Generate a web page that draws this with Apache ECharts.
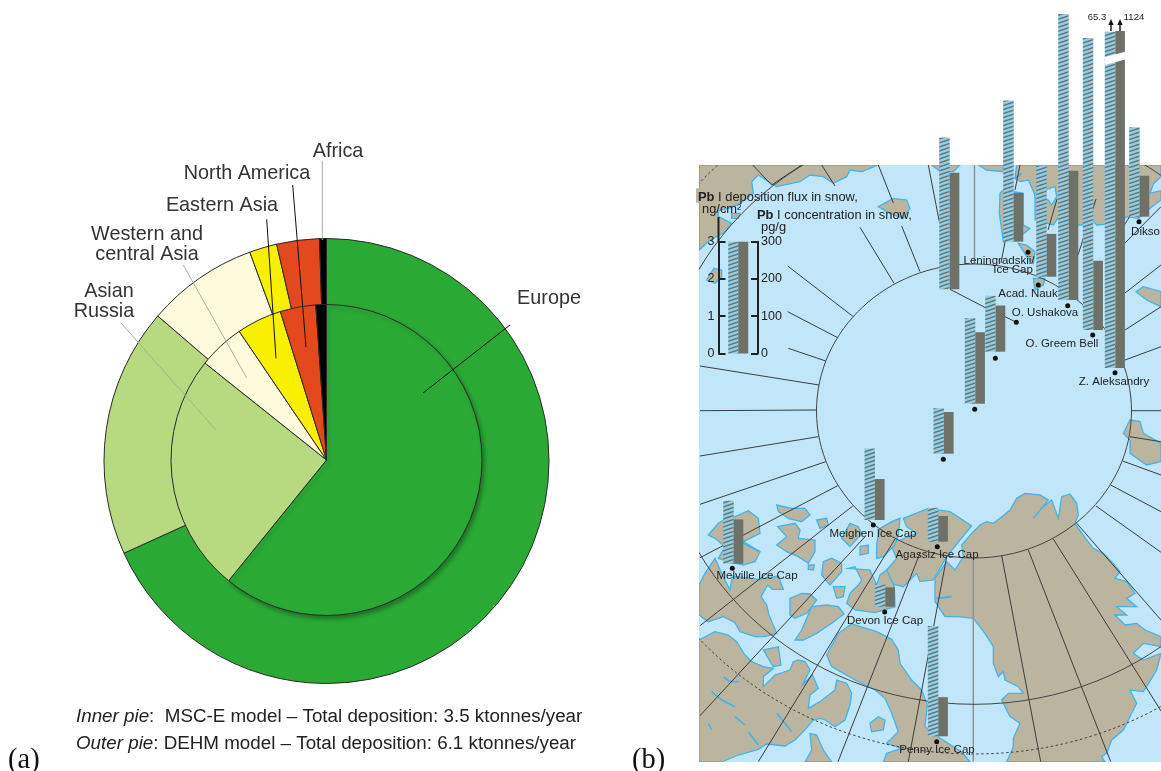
<!DOCTYPE html>
<html>
<head>
<meta charset="utf-8">
<title>Pb deposition</title>
<script src="https://cdn.jsdelivr.net/npm/echarts@6/dist/echarts.min.js"></script>
<style>
html, body { margin: 0; padding: 0; background: #fff; }
#chart { width: 1161px; height: 771px; }
</style>
</head>
<body>
<div id="chart"></div>
<script>
// (a) source regions, % of total deposition
const regions = ['Europe', 'Asian Russia', 'Western and central Asia', 'Eastern Asia', 'North America', 'Africa'];
const innerPie = [60.9, 24.9, 4.8, 4.7, 3.7, 1.1];
const outerPie = [68.2, 18.1, 8.1, 2.0, 3.1, 0.5];
const regionColors = ['#2aaa35', '#b7d97f', '#fefbdc', '#f8f000', '#e4491d', '#000000'];

// (b) stations, flux in ng/cm2 and concentration in pg/g
const stations = ['', 'Leningradskii Ice Cap', 'Acad. Nauk', 'O. Ushakova', 'O. Greem Bell', 'Z. Aleksandry', 'Dikso', '', '', '', 'Meighen Ice Cap', 'Agassiz Ice Cap', 'Melville Ice Cap', 'Devon Ice Cap', 'Penny Ice Cap'];
const fluxValues = [4.08, 3.79, 2.98, 7.68, 7.84, 65.3, 2.40, 1.50, 2.30, 1.22, 1.92, 0.91, 1.69, 0.60, 2.96];
const concValues = [313, 131, 115, 347, 186, 1124, 110, 124, 192, 112, 110, 69, 119, 52, 105];
// the Z. Aleksandry bars are cut with a break, these are the heights they are drawn to
const fluxBreak = 9.03;
const concBreak = 905;

// where each station sits on the map
const stationX = [949.7, 1013.7, 1046.7, 1068.7, 1093.3, 1115.3, 1139.7, 995.7, 975.3, 944, 875, 938.3, 733.7, 885.3, 938.3];
const stationBase = [289.3, 241.7, 276.7, 300, 330, 368, 216.7, 351.7, 403.7, 453.7, 520, 541.7, 563.7, 606.7, 736.3];
const stationDots = [[1016.3, 322.3], [1028, 252.3], [1038.3, 285], [1067.7, 305.7], [1092.7, 335], [1115, 372.7], [1139, 221.7], [995.3, 358.3], [974.7, 409.3], [943.3, 459.3], [873.3, 525], [937.3, 546.7], [732.3, 568.3], [884.7, 612], [936.7, 741.7]];

const fluxTicks = [0, 1, 2, 3];
const concTicks = [0, 100, 200, 300];
const scaleHeight = 111.7;
const pxPerFlux = scaleHeight / 3;
const pxPerConc = scaleHeight / 300;

const TAN = '#bbb5a0';
const SEA = '#c1e6fa';
const COAST = '#42b4ea';
const BAR_GREY = '#6d7168';
const INK = '#222222';
const SANS = '"Liberation Sans", Arial, sans-serif';

function fromCrop(ox, oy, pts) {
    return pts.map(function (p) {
        return [ox + p[0] / 3, oy + p[1] / 3];
    });
}

const landShapes = [
    // upper left Siberia
    fromCrop(690, 0, [[28, 495], [565, 495], [515, 515], [480, 510], [470, 530], [430, 550], [400, 530], [360, 525], [330, 545], [260, 560], [235, 545], [205, 525], [185, 545], [190, 580], [150, 610], [115, 625], [85, 632], [85, 650], [125, 670], [100, 700], [60, 720], [28, 750]]),
    fromCrop(690, 0, [[565, 620], [610, 595], [650, 600], [660, 625], [640, 655], [600, 640]]),
    fromCrop(690, 0, [[725, 495], [810, 495], [790, 515], [745, 510]]),
    fromCrop(690, 0, [[72, 805], [95, 810], [95, 830], [75, 850], [50, 840]]),
    fromCrop(690, 0, [[125, 640], [150, 640], [145, 655], [125, 655]]),
    // upper right Siberia and the islands below it
    fromCrop(920, 160, [[290, 15], [723, 15], [723, 50], [700, 72], [690, 100], [723, 92], [723, 120], [690, 145], [655, 175], [620, 170], [600, 190], [530, 195], [510, 172], [490, 195], [470, 195], [415, 172], [400, 195], [345, 180], [345, 105], [325, 60], [300, 65], [285, 55]]),
    fromCrop(920, 160, [[175, 15], [250, 15], [250, 35], [200, 30]]),
    fromCrop(920, 160, [[240, 100], [250, 90], [310, 100], [310, 195], [330, 205], [300, 230], [250, 245], [238, 160]]),
    fromCrop(920, 160, [[295, 250], [320, 255], [345, 275], [340, 310], [320, 290]]),
    fromCrop(920, 160, [[340, 355], [375, 355], [370, 375], [345, 390]]),
    fromCrop(920, 160, [[648, 395], [670, 380], [723, 395], [723, 440], [680, 420]]),
    fromCrop(690, 390, [[1320, 90], [1350, 95], [1360, 130], [1413, 160], [1413, 215], [1370, 225], [1320, 190], [1320, 150], [1300, 130]]),
    // Greenland
    fromCrop(930, 490, [[95, 165], [130, 125], [150, 105], [170, 95], [190, 100], [210, 85], [240, 60], [260, 25], [285, 10], [330, 15], [355, 30], [310, 85], [335, 55], [365, 30], [385, 85], [395, 20], [420, 12], [440, 40], [445, 75], [435, 100], [470, 150], [490, 175], [520, 190], [550, 220], [570, 245], [555, 265], [590, 275], [615, 310], [590, 325], [620, 350], [560, 350], [590, 375], [555, 375], [585, 405], [620, 400], [645, 420], [693, 440], [693, 470], [640, 460], [610, 490], [640, 510], [693, 490], [680, 540], [650, 590], [640, 605], [600, 600], [620, 640], [595, 690], [580, 720], [545, 750], [530, 790], [515, 800], [525, 816], [230, 816], [250, 770], [250, 745], [270, 700], [240, 680], [225, 650], [215, 630], [235, 610], [280, 610], [265, 590], [225, 570], [220, 545], [205, 560], [190, 520], [190, 470], [165, 430], [130, 385], [85, 380], [45, 380], [15, 335], [15, 265], [50, 215], [75, 240], [100, 200]]),
    // Canadian Arctic islands
    fromCrop(690, 390, [[640, 385], [715, 355], [780, 365], [845, 408], [810, 450], [770, 500], [730, 570], [690, 575], [680, 550], [640, 590], [600, 580], [590, 540], [620, 505], [600, 460], [630, 450], [680, 430], [650, 410]]),
    fromCrop(695, 490, [[40, 135], [70, 100], [85, 90], [120, 80], [160, 62], [190, 85], [195, 130], [145, 155], [195, 185], [180, 215], [145, 225], [100, 215], [70, 205], [90, 170], [60, 145]]),
    fromCrop(695, 490, [[245, 45], [290, 55], [330, 55], [345, 75], [320, 95], [280, 85], [250, 65]]),
    fromCrop(695, 490, [[248, 110], [300, 100], [315, 120], [310, 145], [360, 150], [360, 185], [340, 220], [310, 200], [275, 185], [245, 165], [275, 140]]),
    fromCrop(695, 490, [[365, 90], [395, 85], [400, 105], [375, 115]]),
    fromCrop(695, 490, [[465, 100], [490, 110], [500, 130], [465, 170], [440, 145]]),
    fromCrop(695, 490, [[495, 170], [520, 165], [520, 190], [495, 195]]),
    fromCrop(695, 490, [[545, 160], [555, 115], [590, 95], [615, 85], [610, 135], [600, 165], [565, 200], [545, 205]]),
    fromCrop(695, 490, [[385, 215], [410, 205], [440, 220], [440, 245], [405, 285], [380, 255]]),
    fromCrop(695, 490, [[340, 225], [358, 225], [355, 240], [340, 238]]),
    fromCrop(695, 490, [[12, 285], [30, 250], [60, 205], [78, 245], [105, 300], [112, 258], [190, 268], [250, 258], [265, 298], [232, 298], [218, 285], [198, 320], [215, 345], [222, 375], [245, 430], [210, 440], [180, 440], [135, 425], [120, 398], [85, 380], [40, 395], [12, 375]]),
    fromCrop(695, 490, [[285, 325], [320, 310], [345, 312], [365, 330], [335, 370], [300, 385], [285, 375]]),
    fromCrop(695, 490, [[350, 350], [395, 345], [430, 350], [447, 372], [410, 400], [365, 430], [325, 450], [300, 450], [320, 420]]),
    fromCrop(695, 490, [[415, 290], [450, 290], [445, 320], [425, 325]]),
    fromCrop(695, 490, [[460, 235], [480, 230], [500, 270], [490, 285], [465, 310], [455, 340], [480, 360], [540, 368], [600, 350], [598, 290], [575, 240], [555, 255], [545, 285], [525, 240]]),
    // Baffin Island and the mainland
    fromCrop(695, 620, [[395, 105], [430, 40], [470, 12], [545, 35], [590, 58], [610, 90], [615, 130], [650, 180], [680, 210], [697, 255], [690, 320], [735, 354], [804, 399], [825, 426], [565, 426], [575, 400], [620, 385], [575, 370], [610, 335], [590, 280], [570, 235], [540, 210], [480, 180], [410, 140]]),
    fromCrop(695, 620, [[12, 60], [40, 45], [60, 35], [100, 45], [125, 65], [150, 105], [170, 125], [205, 140], [235, 145], [205, 170], [205, 200], [240, 165], [285, 150], [295, 125], [310, 120], [330, 125], [345, 150], [322, 195], [352, 165], [370, 205], [345, 225], [340, 265], [375, 245], [420, 210], [425, 180], [455, 190], [470, 220], [465, 255], [450, 300], [420, 320], [390, 300], [375, 295], [355, 300], [325, 335], [300, 360], [270, 378], [215, 372], [190, 388], [130, 405], [80, 426], [12, 426]]),
    fromCrop(695, 620, [[205, 90], [250, 80], [258, 135], [235, 140]]),
    fromCrop(695, 620, [[345, 340], [365, 345], [385, 390], [410, 426], [330, 426], [350, 390]]),
    fromCrop(695, 620, [[525, 310], [550, 290], [570, 300], [565, 330], [530, 335]])
];

// lakes and narrow channels, drawn as sea on top of the land
const seaPatches = [
    fromCrop(920, 160, [[345, 100], [405, 80], [410, 110], [395, 135], [385, 120], [345, 112]])
];
const channels = [
    fromCrop(695, 620, [[85, 170], [105, 185], [130, 185]]),
    fromCrop(695, 620, [[50, 215], [80, 240], [120, 260]]),
    fromCrop(695, 620, [[120, 290], [150, 315]]),
    fromCrop(695, 620, [[245, 280], [290, 335]]),
    fromCrop(695, 620, [[40, 310], [50, 330]]),
    fromCrop(695, 620, [[160, 335], [190, 375]]),
    fromCrop(695, 490, [[145, 160], [195, 185]]),
    fromCrop(930, 490, [[20, 325], [65, 320]]),
    fromCrop(920, 160, [[285, 55], [305, 40]])
];

// meridians, [x1, y1, x2, y2]
const meridians = [
    [853.3, 316.7, 787.7, 266], [837.7, 337.7, 787.7, 311.7], [825.7, 361, 788.3, 348.3],
    [819, 385, 700, 366], [816.7, 410, 700, 410.7], [818.3, 436.7, 700, 456],
    [825.7, 461.7, 700, 504.3], [837.7, 485.7, 700, 557.7], [852.7, 506, 700, 625.7],
    [865, 536.7, 700, 715.7], [895, 539, 758.3, 761.7], [920, 553, 838, 761.7],
    [946.7, 556.7, 908.3, 761.7], [1001.7, 555.7, 1040.7, 761.7], [1028.3, 550, 1110.7, 761.7],
    [1053.3, 539, 1161, 711], [1076.7, 523.3, 1161, 620], [1096, 506, 1161, 552.3],
    [1110.7, 485, 1161, 511.7], [1122.7, 461, 1161, 475], [1130, 436.7, 1161, 441.7],
    [1131.7, 410.7, 1161, 410.7], [1125, 360, 1161, 346.7], [1125, 330, 1161, 306.7],
    [1125, 293, 1161, 265], [1125, 243, 1161, 206.7], [928.3, 165, 939.3, 221.7],
    [901.7, 226, 920, 271.7], [860, 227.3, 894, 283.3], [878.3, 165, 893.3, 203],
    [821.7, 165, 835, 186], [752.7, 165, 771.7, 185], [771.7, 185, 801.7, 165],
    [1020, 165, 1015, 190], [1005, 242, 1001, 263], [950, 289.3, 986.7, 308.3],
    [1005, 316.7, 1016.3, 322.3], [1057, 199, 1048, 230], [1096, 199, 1078, 255],
    [1113, 243, 1130, 216], [1078, 275, 1063, 285]
];
const greyMeridian = [[973.3, 557.7, 973.3, 761.7], [974.5, 165, 974.5, 263]];

// [cx, cy, rx, ry, dashed]
const latitudes = [
    [974, 411, 157.5, 147, false],
    [974, 411, 314, 293.3, false],
    [974, 411, 367.6, 343, true]
];

const stationLabels = [
    ['Leningradskii/', 999, 260.5], ['Ice Cap', 1013, 270], ['Acad. Nauk', 1028, 293.5],
    ['O. Ushakova', 1045, 313], ['O. Greem Bell', 1062, 343.5], ['Z. Aleksandry', 1114, 381.5],
    ['Dikso', 1145.5, 231.5], ['Meighen Ice Cap', 873, 533.5], ['Agassiz Ice Cap', 937, 554.5],
    ['Melville Ice Cap', 757, 575.5], ['Devon Ice Cap', 885, 621], ['Penny Ice Cap', 937, 750]
];

// leader lines of the pie
const pieLeaders = [
    [[322.3, 161, 322.3, 240], '#a8a8a8'],
    [[292.7, 185, 306, 347], '#111'],
    [[266.7, 219.3, 276, 358.3], '#111'],
    [[183.3, 265, 246.7, 378], '#b0b0a0'],
    [[121, 323, 216, 430], '#a8b090'],
    [[423, 393, 510, 325], '#111']
];
const pieLabels = [
    ['Africa', 338, 151.5], ['North America', 247, 173.5], ['Eastern Asia', 222, 205.5],
    ['Western and', 147, 234.5], ['central Asia', 147, 254.5], ['Asian', 109, 291.5],
    ['Russia', 104, 311.5], ['Europe', 549, 298.5]
];

function hatchPattern() {
    const c = document.createElement('canvas');
    c.width = 12;
    c.height = 4;
    const g = c.getContext('2d');
    g.fillStyle = '#8fd0ea';
    g.fillRect(0, 0, 12, 4);
    g.strokeStyle = '#6a7470';
    g.lineWidth = 1.5;
    [-4, 0, 4, 8].forEach(function (d) {
        g.beginPath();
        g.moveTo(0, d + 4);
        g.lineTo(12, d);
        g.stroke();
    });
    return { image: c, repeat: 'repeat' };
}
const hatch = hatchPattern();

function renderPolygons(shapes, fill, stroke) {
    return function (params, api) {
        const pts = shapes[params.dataIndex].map(function (p) {
            return api.coord(p);
        });
        return { type: 'polygon', shape: { points: pts }, style: { fill: fill, stroke: stroke, lineWidth: 1.3 } };
    };
}

function renderChannels(params, api) {
    const pts = channels[params.dataIndex].map(function (p) {
        return api.coord(p);
    });
    return { type: 'polyline', shape: { points: pts }, style: { fill: 'none', stroke: COAST, lineWidth: 1.6 } };
}

function renderLines(lines, color, width) {
    return function (params, api) {
        const l = lines[params.dataIndex];
        const a = api.coord([l[0], l[1]]);
        const b = api.coord([l[2], l[3]]);
        return { type: 'line', shape: { x1: a[0], y1: a[1], x2: b[0], y2: b[1] }, style: { stroke: color, lineWidth: width } };
    };
}

function renderLatitude(params, api) {
    const l = latitudes[params.dataIndex];
    const c = api.coord([l[0], l[1]]);
    const s = api.size([l[2], l[3]]);
    return {
        type: 'ellipse',
        shape: { cx: c[0], cy: c[1], rx: s[0], ry: s[1] },
        style: { fill: 'none', stroke: '#444', lineWidth: 1, lineDash: l[4] ? [2.5, 2.5] : null }
    };
}

function renderStationBars(params, api) {
    const i = params.dataIndex;
    const base = api.coord([stationX[i], stationBase[i]]);
    const flux = Math.min(fluxValues[i], fluxBreak);
    const conc = Math.min(concValues[i], concBreak);
    const hf = api.size([0, flux * pxPerFlux])[1];
    const hc = api.size([0, conc * pxPerConc])[1];
    return {
        type: 'group',
        children: [
            { type: 'rect', shape: { x: base[0] - 10.5, y: base[1] - hf, width: 10.5, height: hf }, style: { fill: hatch } },
            { type: 'rect', shape: { x: base[0], y: base[1] - hc, width: 9.6, height: hc }, style: { fill: BAR_GREY } }
        ]
    };
}

function indexData(list) {
    return list.map(function (_, i) {
        return [i, i];
    });
}

function pieSeries(values, center, radius, z) {
    return {
        type: 'pie',
        z: z,
        center: center,
        radius: radius,
        startAngle: 90,
        clockwise: true,
        silent: true,
        label: { show: false },
        labelLine: { show: false },
        data: regions.map(function (name, i) {
            const item = {
                name: name,
                value: values[i],
                itemStyle: { color: regionColors[i], borderColor: '#2a2a2a', borderWidth: 1 }
            };
            if (z > 2 && i === 0) {
                item.itemStyle.shadowColor = 'rgba(0,0,0,0.3)';
                item.itemStyle.shadowBlur = 4;
                item.itemStyle.shadowOffsetX = 2;
                item.itemStyle.shadowOffsetY = 3;
            }
            return item;
        })
    };
}

function textItem(text, x, y, size, align, extra) {
    return Object.assign({
        type: 'text',
        z: 60,
        x: x,
        y: y,
        silent: true,
        style: {
            text: text,
            fontFamily: SANS,
            fontSize: size,
            fill: INK,
            textAlign: align,
            textVerticalAlign: 'middle'
        }
    }, extra || {});
}

function lineItem(l, color, width, z) {
    return {
        type: 'line',
        z: z,
        silent: true,
        shape: { x1: l[0], y1: l[1], x2: l[2], y2: l[3] },
        style: { stroke: color, lineWidth: width }
    };
}

const graphics = [];
pieLeaders.forEach(function (p) {
    graphics.push(lineItem(p[0], p[1], 1, 50));
});
pieLabels.forEach(function (p) {
    const t = textItem(p[0], p[1], p[2], 19.8, 'center');
    t.style.fill = '#333';
    graphics.push(t);
});
graphics.push(textItem('{i|Inner pie}:  MSC-E model \u2013 Total deposition: 3.5 ktonnes/year', 76, 716.5, 18.8, 'left'));
graphics.push(textItem('{i|Outer pie}: DEHM model \u2013 Total deposition: 6.1 ktonnes/year', 76, 743.5, 18.8, 'left'));
graphics.slice(-2).forEach(function (t) {
    t.style.rich = { i: { fontStyle: 'italic', fontFamily: SANS, fontSize: 18.8, fill: INK } };
});
['(a)', '(b)'].forEach(function (t, i) {
    const item = textItem(t, i === 0 ? 8 : 632, 760.5, 28.5, 'left');
    item.style.fontFamily = '"Liberation Serif", serif';
    item.style.fill = '#111';
    graphics.push(item);
});

// legend captions of panel b
graphics.push({ type: 'rect', z: 55, silent: true, shape: { x: 696, y: 188.3, width: 26, height: 14.4 }, style: { fill: TAN } });
const boldRich = { b: { fontWeight: 'bold', fontFamily: SANS, fontSize: 12.9, fill: INK } };
[
    ['{b|Pb} I deposition flux in snow,', 698, 197],
    ['ng/cm\u00b2', 702, 209],
    ['{b|Pb} I concentration in snow,', 757, 215],
    ['pg/g', 761, 227]
].forEach(function (p) {
    const t = textItem(p[0], p[1], p[2], 12.9, 'left');
    t.style.rich = boldRich;
    graphics.push(t);
});
graphics.push(lineItem([718.5, 217, 718.5, 242], INK, 2, 55));

stationLabels.forEach(function (p) {
    graphics.push(textItem(p[0], p[1], p[2], 11.5, 'center'));
});

// break in the tallest bars, with the real values above it
graphics.push({
    type: 'polygon', z: 58, silent: true,
    shape: { points: [[1105, 57], [1126, 51.5], [1126, 59.3], [1105, 65]] },
    style: { fill: '#fff' }
});
graphics.push(textItem('65.3', 1097, 17, 9.5, 'center'));
graphics.push(textItem('1124', 1134, 17, 9.5, 'center'));
[1111, 1120].forEach(function (x) {
    graphics.push(lineItem([x, 31, x, 23], '#111', 1.4, 58));
    graphics.push({
        type: 'polygon', z: 58, silent: true,
        shape: { points: [[x - 2.6, 25], [x + 2.6, 25], [x, 19]] },
        style: { fill: '#111' }
    });
});

const option = {
    animation: false,
    backgroundColor: '#ffffff',
    grid: [
        { left: 699, top: 165, width: 462, height: 597, show: true, backgroundColor: SEA, borderWidth: 0 },
        { left: 699, top: 0, width: 462, height: 771 },
        { left: 718.5, top: 241.7, width: 39.5, height: scaleHeight }
    ],
    xAxis: [
        { type: 'value', gridIndex: 0, min: 699, max: 1161, show: false },
        { type: 'value', gridIndex: 1, min: 699, max: 1161, show: false },
        { type: 'category', gridIndex: 2, data: ['Pb'], show: false }
    ],
    yAxis: [
        { type: 'value', gridIndex: 0, min: 165, max: 762, inverse: true, show: false },
        { type: 'value', gridIndex: 1, min: 0, max: 771, inverse: true, show: false },
        {
            type: 'value', gridIndex: 2, position: 'left', min: fluxTicks[0], max: fluxTicks[3], interval: 1,
            z: 20,
            splitLine: { show: false },
            axisLine: { show: true, lineStyle: { color: INK, width: 2 } },
            axisTick: { show: true, inside: true, length: 7, lineStyle: { color: INK, width: 2 } },
            axisLabel: { margin: 4, color: INK, fontFamily: SANS, fontSize: 12.5 }
        },
        {
            type: 'value', gridIndex: 2, position: 'right', min: concTicks[0], max: concTicks[3], interval: 100,
            z: 20,
            splitLine: { show: false },
            axisLine: { show: true, lineStyle: { color: INK, width: 2 } },
            axisTick: { show: true, inside: true, length: 7, lineStyle: { color: INK, width: 2 } },
            axisLabel: { margin: 3, color: INK, fontFamily: SANS, fontSize: 12.5 }
        }
    ],
    series: [
        pieSeries(outerPie, [326.5, 461], [0, 222.5], 2),
        pieSeries(innerPie, [326.5, 460], [0, 155.5], 3),
        {
            type: 'custom', xAxisIndex: 0, yAxisIndex: 0, z: 4, clip: true, silent: true,
            renderItem: renderPolygons(landShapes, TAN, COAST), data: indexData(landShapes)
        },
        {
            type: 'custom', xAxisIndex: 0, yAxisIndex: 0, z: 5, clip: true, silent: true,
            renderItem: renderPolygons(seaPatches, SEA, COAST), data: indexData(seaPatches)
        },
        {
            type: 'custom', xAxisIndex: 0, yAxisIndex: 0, z: 5, clip: true, silent: true,
            renderItem: renderChannels, data: indexData(channels)
        },
        {
            type: 'custom', xAxisIndex: 0, yAxisIndex: 0, z: 6, clip: true, silent: true,
            renderItem: renderLines(meridians, '#3c3c3c', 1), data: indexData(meridians)
        },
        {
            type: 'custom', xAxisIndex: 0, yAxisIndex: 0, z: 6, clip: true, silent: true,
            renderItem: renderLines(greyMeridian, '#8b9090', 1.4), data: indexData(greyMeridian)
        },
        {
            type: 'custom', xAxisIndex: 0, yAxisIndex: 0, z: 6, clip: true, silent: true,
            renderItem: renderLatitude, data: indexData(latitudes)
        },
        {
            type: 'custom', name: 'stations', xAxisIndex: 1, yAxisIndex: 1, z: 8, clip: false, silent: true,
            renderItem: renderStationBars, data: stations.map(function (s, i) { return [stationX[i], stationBase[i]]; })
        },
        {
            type: 'scatter', xAxisIndex: 1, yAxisIndex: 1, z: 9, silent: true,
            symbolSize: 5, itemStyle: { color: '#111', opacity: 1 }, data: stationDots
        },
        {
            type: 'bar', xAxisIndex: 2, yAxisIndex: 2, z: 9, silent: true,
            barWidth: 10, barGap: 0, itemStyle: { color: hatch }, data: [fluxTicks[3]]
        },
        {
            type: 'bar', xAxisIndex: 2, yAxisIndex: 3, z: 9, silent: true,
            barWidth: 10, barGap: 0, itemStyle: { color: BAR_GREY }, data: [concTicks[3]]
        }
    ],
    graphic: { elements: graphics }
};

const chart = echarts.init(document.getElementById('chart'), null, { renderer: 'canvas' });
chart.setOption(option);
</script>
</body>
</html>
